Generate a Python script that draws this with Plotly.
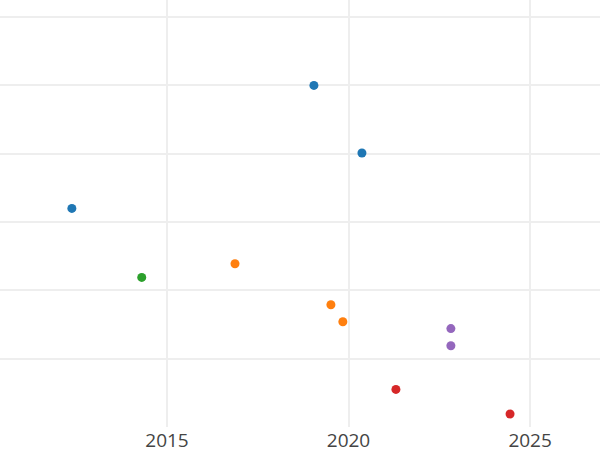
import plotly.graph_objects as go

# Data
blue_x = ["2012-05-19", "2019-01-18", "2020-05-15"]
blue_y = [2.20, 4.00, 3.01]
orange_x = ["2016-11-15", "2019-07-08", "2019-11-05"]
orange_y = [1.39, 0.79, 0.54]
green_x = ["2014-04-22"]
green_y = [1.19]
red_x = ["2021-04-22", "2024-06-13"]
red_y = [-0.45, -0.81]
purple_x = ["2022-10-27", "2022-10-27"]
purple_y = [0.44, 0.19]

series = [
    ("A", blue_x, blue_y, "#1f77b4"),
    ("B", orange_x, orange_y, "#ff7f0e"),
    ("C", green_x, green_y, "#2ca02c"),
    ("D", red_x, red_y, "#d62728"),
    ("E", purple_x, purple_y, "#9467bd"),
]

fig = go.Figure()
for name, xs, ys, col in series:
    fig.add_trace(go.Scatter(x=xs, y=ys, mode="markers", name=name,
                             marker=dict(color=col, size=9)))

fig.update_layout(
    width=600, height=450,
    template="none",
    showlegend=False,
    margin=dict(l=0, r=0, t=0, b=23),
    paper_bgcolor="white", plot_bgcolor="white",
    font=dict(family="Open Sans", size=19, color="#444"),
)
fig.update_xaxes(type="date", range=["2010-05-27", "2026-12-05"],
                 dtick="M60", tick0="2015-01-01", tickformat="%Y",
                 showgrid=True, gridcolor="#eee", gridwidth=1.5,
                 zeroline=False, showline=False, ticks="")
fig.update_yaxes(range=[-1.0, 5.25], dtick=1, tick0=0,
                 showticklabels=False, showgrid=True, gridcolor="#eee",
                 gridwidth=1.5, zeroline=False, showline=False, ticks="")

fig.write_html("out.html",
               config={"displayModeBar": False},
               post_script="document.body.style.margin='0';document.body.style.overflow='hidden';")
